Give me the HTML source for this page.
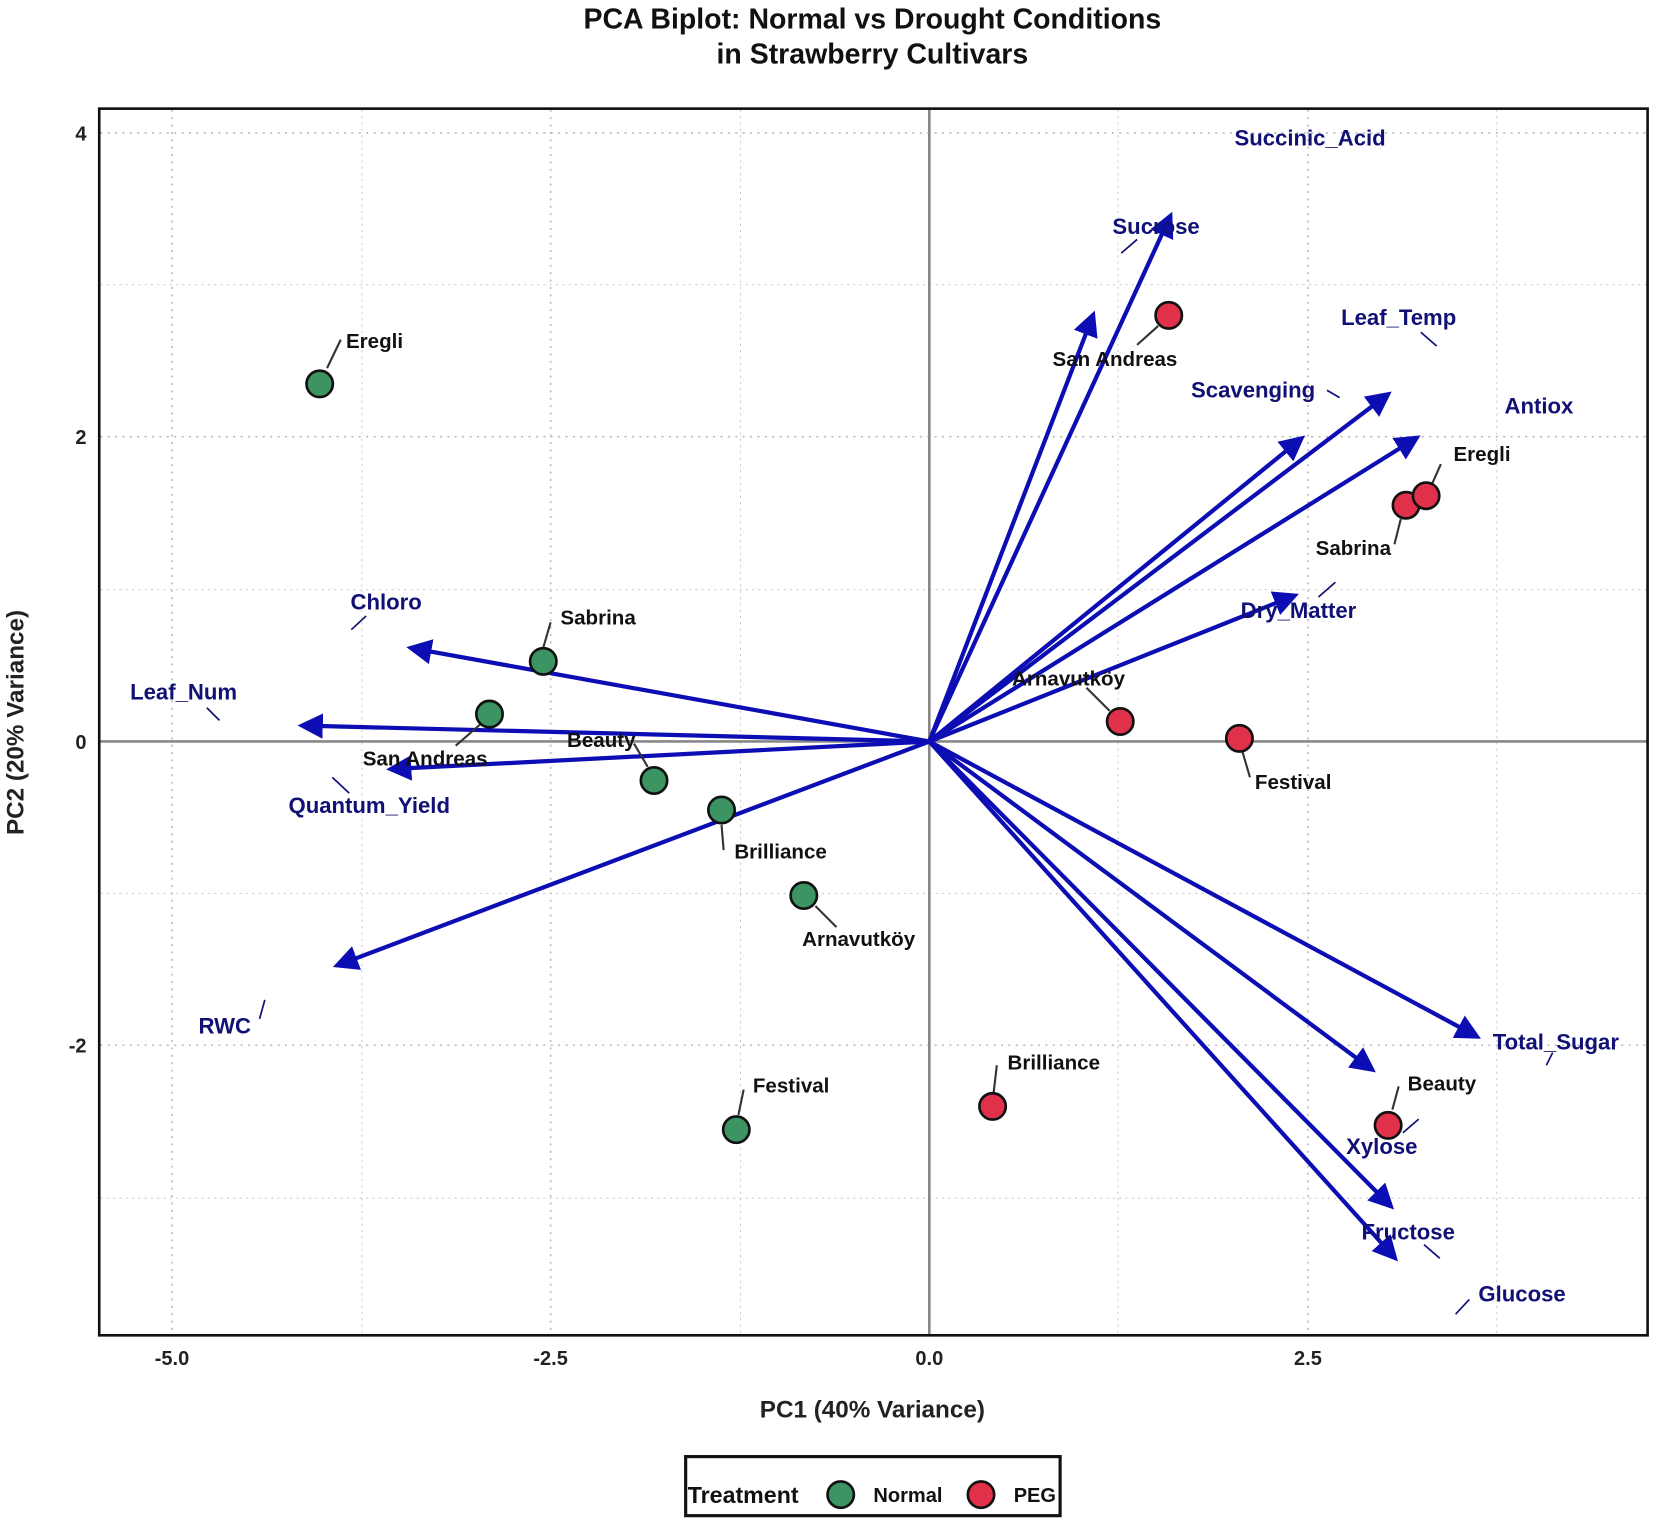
<!DOCTYPE html>
<html><head><meta charset="utf-8"><style>
html,body{margin:0;padding:0;background:#fff;}
svg{display:block;font-family:"Liberation Sans",Arial,sans-serif;}
.v{fill:#101075;font-weight:bold;font-size:21px;}
.p{fill:#111;font-weight:bold;font-size:19.5px;}
.ld{stroke:#333;stroke-width:2;}
.vl{stroke:#101075;stroke-width:1.6;}
.g{stroke:#bbb;stroke-width:1.5;stroke-dasharray:2 5;}
.gm{stroke:#ccc;stroke-width:1;stroke-dasharray:2 4;}
.a{stroke:#0d0db4;stroke-width:4;}
.n{fill:#3b9462;stroke:#111;stroke-width:2.5;}
.r{fill:#e0304a;stroke:#111;stroke-width:2.5;}
</style></head><body>
<svg width="1654" height="1522" viewBox="0 0 1568 1443" xmlns="http://www.w3.org/2000/svg">
<defs><marker id="ah" markerWidth="6" markerHeight="6" refX="4" refY="3" orient="auto" markerUnits="strokeWidth"><path d="M0,0 L6,3 L0,6 Z" fill="#0d0db4"/></marker></defs>
<text x="827" y="27" text-anchor="middle" font-size="27" font-weight="bold" fill="#111">PCA Biplot: Normal vs Drought Conditions</text>
<text x="827" y="60" text-anchor="middle" font-size="27" font-weight="bold" fill="#111">in Strawberry Cultivars</text>
<!-- grid -->
<g class="gm"><line x1="343" y1="104" x2="343" y2="1265"/><line x1="702" y1="104" x2="702" y2="1265"/><line x1="1060" y1="104" x2="1060" y2="1265"/><line x1="1419" y1="104" x2="1419" y2="1265"/>
<line x1="95" y1="270" x2="1561" y2="270"/><line x1="95" y1="559" x2="1561" y2="559"/><line x1="95" y1="847" x2="1561" y2="847"/><line x1="95" y1="1136" x2="1561" y2="1136"/></g>
<g class="g"><line x1="163" y1="104" x2="163" y2="1265"/><line x1="522" y1="104" x2="522" y2="1265"/><line x1="1240" y1="104" x2="1240" y2="1265"/>
<line x1="95" y1="126" x2="1561" y2="126"/><line x1="95" y1="414" x2="1561" y2="414"/><line x1="95" y1="991" x2="1561" y2="991"/></g>
<line x1="881" y1="104" x2="881" y2="1265" stroke="#888" stroke-width="2.5"/>
<line x1="95" y1="703" x2="1561" y2="703" stroke="#888" stroke-width="2.5"/>
<rect x="94" y="103" width="1468" height="1163" fill="none" stroke="#111" stroke-width="2.5"/>
<!-- ticks -->
<g font-size="19" font-weight="bold" fill="#222" text-anchor="middle">
<text x="163" y="1294">-5.0</text><text x="522" y="1294">-2.5</text><text x="881" y="1294">0.0</text><text x="1240" y="1294">2.5</text>
</g>
<g font-size="19" font-weight="bold" fill="#222" text-anchor="end">
<text x="82" y="133">4</text><text x="82" y="421">2</text><text x="82" y="710">0</text><text x="82" y="998">-2</text>
</g>
<text x="827" y="1344" text-anchor="middle" font-size="23" font-weight="bold" fill="#222">PC1 (40% Variance)</text>
<text transform="translate(22,685) rotate(-90)" text-anchor="middle" font-size="23" font-weight="bold" fill="#222">PC2 (20% Variance)</text>
<!-- arrows -->
<g class="a" marker-end="url(#ah)">
<line x1="881" y1="703" x2="1108" y2="208"/>
<line x1="881" y1="703" x2="1035" y2="302"/>
<line x1="881" y1="703" x2="1313" y2="376"/>
<line x1="881" y1="703" x2="1231" y2="418"/>
<line x1="881" y1="703" x2="1340" y2="417"/>
<line x1="881" y1="703" x2="1224" y2="566"/>
<line x1="881" y1="703" x2="393" y2="615"/>
<line x1="881" y1="703" x2="290" y2="688"/>
<line x1="881" y1="703" x2="374" y2="729"/>
<line x1="881" y1="703" x2="323" y2="914"/>
<line x1="881" y1="703" x2="1397" y2="981"/>
<line x1="881" y1="703" x2="1298" y2="1012"/>
<line x1="881" y1="703" x2="1316" y2="1141"/>
<line x1="881" y1="703" x2="1320" y2="1190"/>
</g>
<!-- variable leaders -->
<g class="vl">
<line x1="1063" y1="240" x2="1078" y2="227"/><line x1="1347" y1="315" x2="1362" y2="328"/><line x1="1258" y1="370" x2="1270" y2="377"/>
<line x1="1250" y1="566" x2="1266" y2="552"/><line x1="333" y1="597" x2="347" y2="584"/><line x1="196" y1="671" x2="208" y2="683"/>
<line x1="315" y1="737" x2="331" y2="752"/><line x1="246" y1="966" x2="251" y2="948"/><line x1="1466" y1="1010" x2="1472" y2="998"/>
<line x1="1330" y1="1074" x2="1345" y2="1061"/><line x1="1350" y1="1180" x2="1365" y2="1193"/><line x1="1380" y1="1246" x2="1393" y2="1232"/>
</g>
<g class="v" text-anchor="middle">
<text x="1242" y="138">Succinic_Acid</text><text x="1096" y="222">Sucrose</text><text x="1326" y="308">Leaf_Temp</text>
<text x="1188" y="377">Scavenging</text><text x="1459" y="392">Antiox</text><text x="1231" y="586">Dry_Matter</text>
<text x="366" y="578">Chloro</text><text x="174" y="663">Leaf_Num</text><text x="350" y="771">Quantum_Yield</text>
<text x="213" y="980">RWC</text><text x="1475" y="995">Total_Sugar</text><text x="1310" y="1094">Xylose</text>
<text x="1335" y="1175">Fructose</text><text x="1443" y="1234">Glucose</text>
</g>
<!-- point leaders -->
<g class="ld">
<line x1="310" y1="349" x2="323" y2="322"/><line x1="515" y1="614" x2="522" y2="590"/><line x1="432" y1="707" x2="455" y2="687"/>
<line x1="601" y1="705" x2="614" y2="727"/><line x1="684" y1="782" x2="686" y2="806"/><line x1="773" y1="859" x2="793" y2="879"/>
<line x1="700" y1="1057" x2="705" y2="1033"/><line x1="1078" y1="327" x2="1098" y2="309"/><line x1="1358" y1="458" x2="1366" y2="440"/>
<line x1="1322" y1="516" x2="1328" y2="492"/><line x1="1030" y1="652" x2="1052" y2="674"/><line x1="1178" y1="713" x2="1185" y2="737"/>
<line x1="942" y1="1036" x2="945" y2="1010"/><line x1="1320" y1="1052" x2="1326" y2="1030"/>
</g>
<g>
<circle class="n" cx="303" cy="364" r="12.5"/><circle class="n" cx="515" cy="627" r="12.5"/><circle class="n" cx="464" cy="677" r="12.5"/>
<circle class="n" cx="620" cy="740" r="12.5"/><circle class="n" cx="684" cy="768" r="12.5"/><circle class="n" cx="762" cy="849" r="12.5"/>
<circle class="n" cx="698" cy="1071" r="12.5"/>
<circle class="r" cx="1108" cy="299" r="12.5"/><circle class="r" cx="1333" cy="479" r="12.5"/><circle class="r" cx="1352" cy="470" r="12.5"/>
<circle class="r" cx="1062" cy="684" r="12.5"/><circle class="r" cx="1175" cy="700" r="12.5"/><circle class="r" cx="941" cy="1049" r="12.5"/>
<circle class="r" cx="1316" cy="1067" r="12.5"/>
</g>
<g class="p" text-anchor="middle">
<text x="355" y="330">Eregli</text><text x="567" y="592">Sabrina</text><text x="403" y="726">San Andreas</text>
<text x="570" y="708">Beauty</text><text x="740" y="814">Brilliance</text><text x="814" y="897">Arnavutköy</text>
<text x="750" y="1036">Festival</text><text x="1057" y="347">San Andreas</text><text x="1405" y="437">Eregli</text>
<text x="1283" y="526">Sabrina</text><text x="1013" y="650">Arnavutköy</text><text x="1226" y="748">Festival</text>
<text x="999" y="1014">Brilliance</text><text x="1367" y="1034">Beauty</text>
</g>
<!-- legend -->
<rect x="650" y="1381" width="355" height="56" fill="#fff" stroke="#111" stroke-width="3"/>
<text x="652" y="1425" font-size="22" font-weight="bold" fill="#111">Treatment</text>
<circle class="n" cx="797" cy="1417" r="12.5"/>
<text x="828" y="1424" font-size="19" font-weight="bold" fill="#111">Normal</text>
<circle class="r" cx="930" cy="1417" r="12.5"/>
<text x="961" y="1424" font-size="19" font-weight="bold" fill="#111">PEG</text>
</svg>
</body></html>
